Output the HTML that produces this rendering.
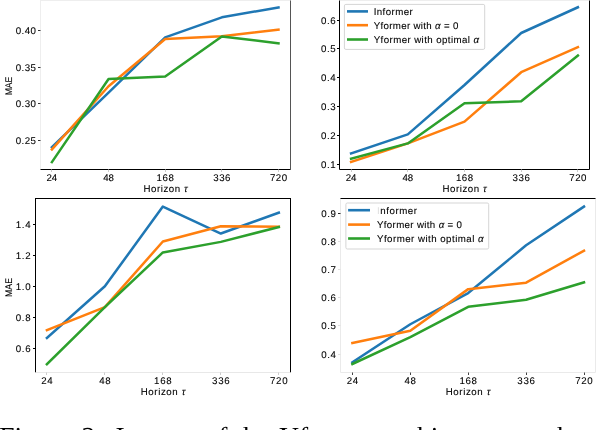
<!DOCTYPE html>
<html><head><meta charset="utf-8"><style>
html,body{margin:0;padding:0;background:#fff;}
svg{display:block;font-family:"Liberation Sans",sans-serif;will-change:transform;text-rendering:geometricPrecision;}
svg text{stroke:#000;stroke-width:0.1px;}
svg g text{stroke:none;}
</style></head><body>
<svg width="596" height="430" viewBox="0 0 596 430">
<rect width="596" height="430" fill="#fff"/>
<polyline points="51.9,147.18 108.55,92.72 165.2,37.31 221.85,17.32 278.5,7.37" fill="none" stroke="#1f77b4" stroke-width="2.5" stroke-linejoin="round" stroke-linecap="square"/>
<polyline points="51.9,149.45 108.55,86.28 165.2,38.92 221.85,36.21 278.5,29.62" fill="none" stroke="#ff7f0e" stroke-width="2.5" stroke-linejoin="round" stroke-linecap="square"/>
<polyline points="51.9,162.11 108.55,79.03 165.2,76.4 221.85,36.43 278.5,43.31" fill="none" stroke="#2ca02c" stroke-width="2.5" stroke-linejoin="round" stroke-linecap="square"/>
<line x1="40" y1="0.5" x2="291" y2="0.5" stroke="#eeeeee" stroke-width="1"/>
<line x1="40.5" y1="0.5" x2="40.5" y2="169.5" stroke="#eeeeee" stroke-width="1"/>
<line x1="290.5" y1="0.5" x2="290.5" y2="169.5" stroke="#555555" stroke-width="1"/>
<line x1="40.5" y1="169.5" x2="290.5" y2="169.5" stroke="#000" stroke-width="1"/>
<line x1="51.5" y1="169.5" x2="51.5" y2="172" stroke="#cccccc" stroke-width="1"/>
<text x="51.9" y="180.7" text-anchor="middle" font-size="9.7" textLength="10.6" lengthAdjust="spacing">24</text>
<line x1="108.5" y1="169.5" x2="108.5" y2="172" stroke="#cccccc" stroke-width="1"/>
<text x="108.55" y="180.7" text-anchor="middle" font-size="9.7" textLength="10.6" lengthAdjust="spacing">48</text>
<line x1="165.5" y1="169.5" x2="165.5" y2="172" stroke="#cccccc" stroke-width="1"/>
<text x="165.2" y="180.7" text-anchor="middle" font-size="9.7" textLength="17.2" lengthAdjust="spacing">168</text>
<line x1="221.5" y1="169.5" x2="221.5" y2="172" stroke="#cccccc" stroke-width="1"/>
<text x="221.85" y="180.7" text-anchor="middle" font-size="9.7" textLength="17.2" lengthAdjust="spacing">336</text>
<line x1="278.5" y1="169.5" x2="278.5" y2="172" stroke="#cccccc" stroke-width="1"/>
<text x="278.5" y="180.7" text-anchor="middle" font-size="9.7" textLength="17.2" lengthAdjust="spacing">720</text>
<text x="165.5" y="192.1" text-anchor="middle" font-size="9.7" textLength="44.2" lengthAdjust="spacing">Horizon <tspan font-style="italic">τ</tspan></text>
<line x1="38" y1="140.5" x2="40.5" y2="140.5" stroke="#333333" stroke-width="1"/>
<text x="35.9" y="144" text-anchor="end" font-size="9.7" textLength="20.2" lengthAdjust="spacing">0.25</text>
<line x1="38" y1="103.5" x2="40.5" y2="103.5" stroke="#333333" stroke-width="1"/>
<text x="35.9" y="107" text-anchor="end" font-size="9.7" textLength="20.2" lengthAdjust="spacing">0.30</text>
<line x1="38" y1="67.5" x2="40.5" y2="67.5" stroke="#333333" stroke-width="1"/>
<text x="35.9" y="71" text-anchor="end" font-size="9.7" textLength="20.2" lengthAdjust="spacing">0.35</text>
<line x1="38" y1="30.5" x2="40.5" y2="30.5" stroke="#333333" stroke-width="1"/>
<text x="35.9" y="34" text-anchor="end" font-size="9.7" textLength="20.2" lengthAdjust="spacing">0.40</text>
<text x="0" y="0" text-anchor="middle" font-size="9.7" textLength="18.5" lengthAdjust="spacingAndGlyphs" transform="translate(11.9,86) rotate(-90)">MAE</text>
<polyline points="351.1,153.4 407.8,134.42 464.5,85 521.2,32.99 577.9,7.27" fill="none" stroke="#1f77b4" stroke-width="2.5" stroke-linejoin="round" stroke-linecap="square"/>
<polyline points="351.1,161.9 407.8,143.41 464.5,121.66 521.2,72.21 577.9,47.1" fill="none" stroke="#ff7f0e" stroke-width="2.5" stroke-linejoin="round" stroke-linecap="square"/>
<polyline points="351.1,158.61 407.8,143.41 464.5,103.2 521.2,101.3 577.9,55.54" fill="none" stroke="#2ca02c" stroke-width="2.5" stroke-linejoin="round" stroke-linecap="square"/>
<line x1="339" y1="0.5" x2="590" y2="0.5" stroke="#eeeeee" stroke-width="1"/>
<line x1="339.5" y1="0.5" x2="339.5" y2="169.5" stroke="#000" stroke-width="1"/>
<line x1="589.5" y1="0.5" x2="589.5" y2="169.5" stroke="#000" stroke-width="1"/>
<line x1="339.5" y1="169.5" x2="589.5" y2="169.5" stroke="#000" stroke-width="1"/>
<line x1="351.5" y1="169.5" x2="351.5" y2="172" stroke="#cccccc" stroke-width="1"/>
<text x="351.1" y="180.9" text-anchor="middle" font-size="9.7" textLength="10.6" lengthAdjust="spacing">24</text>
<line x1="407.5" y1="169.5" x2="407.5" y2="172" stroke="#cccccc" stroke-width="1"/>
<text x="407.8" y="180.9" text-anchor="middle" font-size="9.7" textLength="10.6" lengthAdjust="spacing">48</text>
<line x1="464.5" y1="169.5" x2="464.5" y2="172" stroke="#cccccc" stroke-width="1"/>
<text x="464.5" y="180.9" text-anchor="middle" font-size="9.7" textLength="17.2" lengthAdjust="spacing">168</text>
<line x1="521.5" y1="169.5" x2="521.5" y2="172" stroke="#cccccc" stroke-width="1"/>
<text x="521.2" y="180.9" text-anchor="middle" font-size="9.7" textLength="17.2" lengthAdjust="spacing">336</text>
<line x1="577.5" y1="169.5" x2="577.5" y2="172" stroke="#cccccc" stroke-width="1"/>
<text x="577.9" y="180.9" text-anchor="middle" font-size="9.7" textLength="17.2" lengthAdjust="spacing">720</text>
<text x="464.5" y="192.1" text-anchor="middle" font-size="9.7" textLength="44" lengthAdjust="spacing">Horizon <tspan font-style="italic">τ</tspan></text>
<line x1="337" y1="164.5" x2="339.5" y2="164.5" stroke="#000" stroke-width="1"/>
<text x="335.7" y="168" text-anchor="end" font-size="9.7" textLength="14.8" lengthAdjust="spacing">0.1</text>
<line x1="337" y1="135.5" x2="339.5" y2="135.5" stroke="#000" stroke-width="1"/>
<text x="335.7" y="139" text-anchor="end" font-size="9.7" textLength="14.8" lengthAdjust="spacing">0.2</text>
<line x1="337" y1="106.5" x2="339.5" y2="106.5" stroke="#000" stroke-width="1"/>
<text x="335.7" y="110" text-anchor="end" font-size="9.7" textLength="14.8" lengthAdjust="spacing">0.3</text>
<line x1="337" y1="77.5" x2="339.5" y2="77.5" stroke="#000" stroke-width="1"/>
<text x="335.7" y="81" text-anchor="end" font-size="9.7" textLength="14.8" lengthAdjust="spacing">0.4</text>
<line x1="337" y1="48.5" x2="339.5" y2="48.5" stroke="#000" stroke-width="1"/>
<text x="335.7" y="52" text-anchor="end" font-size="9.7" textLength="14.8" lengthAdjust="spacing">0.5</text>
<line x1="337" y1="20.5" x2="339.5" y2="20.5" stroke="#000" stroke-width="1"/>
<text x="335.7" y="24" text-anchor="end" font-size="9.7" textLength="14.8" lengthAdjust="spacing">0.6</text>
<rect x="344.4" y="4.4" width="140.3" height="45" rx="1.5" fill="#fff" fill-opacity="0.8" stroke="#d5d5d5" stroke-width="1"/>
<line x1="347" y1="11.4" x2="368" y2="11.4" stroke="#1f77b4" stroke-width="2.6"/>
<text x="373.7" y="14.8" text-anchor="start" font-size="9.7" textLength="39" lengthAdjust="spacing">Informer</text>
<line x1="347" y1="25.2" x2="368" y2="25.2" stroke="#ff7f0e" stroke-width="2.6"/>
<text x="373.7" y="28.6" text-anchor="start" font-size="9.7" textLength="84.6" lengthAdjust="spacing">Yformer with <tspan font-style="italic">α</tspan> = 0</text>
<line x1="347" y1="39.5" x2="368" y2="39.5" stroke="#2ca02c" stroke-width="2.6"/>
<text x="373.7" y="42.9" text-anchor="start" font-size="9.7" textLength="105.3" lengthAdjust="spacing">Yformer with optimal <tspan font-style="italic">α</tspan></text>
<polyline points="46.9,337.97 104.88,286.3 162.86,206.55 220.84,233.55 278.82,212.72" fill="none" stroke="#1f77b4" stroke-width="2.5" stroke-linejoin="round" stroke-linecap="square"/>
<polyline points="46.9,330.2 104.88,307.2 162.86,241.51 220.84,226.3 278.82,226.76" fill="none" stroke="#ff7f0e" stroke-width="2.5" stroke-linejoin="round" stroke-linecap="square"/>
<polyline points="46.9,364.2 104.88,307.12 162.86,252.4 220.84,241.88 278.82,227.07" fill="none" stroke="#2ca02c" stroke-width="2.5" stroke-linejoin="round" stroke-linecap="square"/>
<line x1="35" y1="198.5" x2="291" y2="198.5" stroke="#000" stroke-width="1"/>
<line x1="35.5" y1="198.5" x2="35.5" y2="372.5" stroke="#000" stroke-width="1"/>
<line x1="290.5" y1="198.5" x2="290.5" y2="372.5" stroke="#000" stroke-width="1"/>
<line x1="35.5" y1="372.5" x2="290.5" y2="372.5" stroke="#e8e8e8" stroke-width="1"/>
<line x1="46.5" y1="372.5" x2="46.5" y2="375" stroke="#cccccc" stroke-width="1"/>
<text x="46.9" y="383.9" text-anchor="middle" font-size="9.7" textLength="11.4" lengthAdjust="spacing">24</text>
<line x1="104.5" y1="372.5" x2="104.5" y2="375" stroke="#cccccc" stroke-width="1"/>
<text x="104.88" y="383.9" text-anchor="middle" font-size="9.7" textLength="11.4" lengthAdjust="spacing">48</text>
<line x1="162.5" y1="372.5" x2="162.5" y2="375" stroke="#cccccc" stroke-width="1"/>
<text x="162.86" y="383.9" text-anchor="middle" font-size="9.7" textLength="17.5" lengthAdjust="spacing">168</text>
<line x1="220.5" y1="372.5" x2="220.5" y2="375" stroke="#cccccc" stroke-width="1"/>
<text x="220.84" y="383.9" text-anchor="middle" font-size="9.7" textLength="17.5" lengthAdjust="spacing">336</text>
<line x1="278.5" y1="372.5" x2="278.5" y2="375" stroke="#cccccc" stroke-width="1"/>
<text x="278.82" y="383.9" text-anchor="middle" font-size="9.7" textLength="17.5" lengthAdjust="spacing">720</text>
<text x="163" y="395.3" text-anchor="middle" font-size="9.7" textLength="44.5" lengthAdjust="spacing">Horizon <tspan font-style="italic">τ</tspan></text>
<line x1="33" y1="348.5" x2="35.5" y2="348.5" stroke="#000" stroke-width="1"/>
<text x="30.6" y="352" text-anchor="end" font-size="9.7" textLength="14.8" lengthAdjust="spacing">0.6</text>
<line x1="33" y1="317.5" x2="35.5" y2="317.5" stroke="#000" stroke-width="1"/>
<text x="30.6" y="321" text-anchor="end" font-size="9.7" textLength="14.8" lengthAdjust="spacing">0.8</text>
<line x1="33" y1="286.5" x2="35.5" y2="286.5" stroke="#000" stroke-width="1"/>
<text x="30.6" y="290" text-anchor="end" font-size="9.7" textLength="14.8" lengthAdjust="spacing">1.0</text>
<line x1="33" y1="255.5" x2="35.5" y2="255.5" stroke="#000" stroke-width="1"/>
<text x="30.6" y="259" text-anchor="end" font-size="9.7" textLength="14.8" lengthAdjust="spacing">1.2</text>
<line x1="33" y1="224.5" x2="35.5" y2="224.5" stroke="#000" stroke-width="1"/>
<text x="30.6" y="228" text-anchor="end" font-size="9.7" textLength="14.8" lengthAdjust="spacing">1.4</text>
<text x="0" y="0" text-anchor="middle" font-size="9.7" textLength="19" lengthAdjust="spacingAndGlyphs" transform="translate(11.9,287.5) rotate(-90)">MAE</text>
<polyline points="352.4,362.28 410.3,324.24 468.2,293.07 526.1,245.33 584,206.58" fill="none" stroke="#1f77b4" stroke-width="2.5" stroke-linejoin="round" stroke-linecap="square"/>
<polyline points="352.4,343.05 410.3,330.69 468.2,289.14 526.1,282.68 584,250.67" fill="none" stroke="#ff7f0e" stroke-width="2.5" stroke-linejoin="round" stroke-linecap="square"/>
<polyline points="352.4,364 410.3,337.21 468.2,306.83 526.1,299.81 584,282.4" fill="none" stroke="#2ca02c" stroke-width="2.5" stroke-linejoin="round" stroke-linecap="square"/>
<line x1="340" y1="198.5" x2="596" y2="198.5" stroke="#000" stroke-width="1"/>
<line x1="340.5" y1="198.5" x2="340.5" y2="372.5" stroke="#eaeaea" stroke-width="1"/>
<line x1="595.5" y1="198.5" x2="595.5" y2="372.5" stroke="#eaeaea" stroke-width="1"/>
<line x1="340.5" y1="372.5" x2="595.5" y2="372.5" stroke="#eaeaea" stroke-width="1"/>
<line x1="352.5" y1="372.5" x2="352.5" y2="375" stroke="#444444" stroke-width="1"/>
<text x="352.4" y="383.9" text-anchor="middle" font-size="9.7" textLength="11.4" lengthAdjust="spacing">24</text>
<line x1="410.5" y1="372.5" x2="410.5" y2="375" stroke="#444444" stroke-width="1"/>
<text x="410.3" y="383.9" text-anchor="middle" font-size="9.7" textLength="11.4" lengthAdjust="spacing">48</text>
<line x1="468.5" y1="372.5" x2="468.5" y2="375" stroke="#444444" stroke-width="1"/>
<text x="468.2" y="383.9" text-anchor="middle" font-size="9.7" textLength="17.5" lengthAdjust="spacing">168</text>
<line x1="526.5" y1="372.5" x2="526.5" y2="375" stroke="#444444" stroke-width="1"/>
<text x="526.1" y="383.9" text-anchor="middle" font-size="9.7" textLength="17.5" lengthAdjust="spacing">336</text>
<line x1="584.5" y1="372.5" x2="584.5" y2="375" stroke="#444444" stroke-width="1"/>
<text x="584" y="383.9" text-anchor="middle" font-size="9.7" textLength="17.5" lengthAdjust="spacing">720</text>
<text x="468" y="395.3" text-anchor="middle" font-size="9.7" textLength="44.5" lengthAdjust="spacing">Horizon <tspan font-style="italic">τ</tspan></text>
<line x1="338" y1="354.5" x2="340.5" y2="354.5" stroke="#e0e0e0" stroke-width="1"/>
<text x="336" y="358" text-anchor="end" font-size="9.7" textLength="14.8" lengthAdjust="spacing">0.4</text>
<line x1="338" y1="325.5" x2="340.5" y2="325.5" stroke="#e0e0e0" stroke-width="1"/>
<text x="336" y="329" text-anchor="end" font-size="9.7" textLength="14.8" lengthAdjust="spacing">0.5</text>
<line x1="338" y1="297.5" x2="340.5" y2="297.5" stroke="#e0e0e0" stroke-width="1"/>
<text x="336" y="301" text-anchor="end" font-size="9.7" textLength="14.8" lengthAdjust="spacing">0.6</text>
<line x1="338" y1="269.5" x2="340.5" y2="269.5" stroke="#e0e0e0" stroke-width="1"/>
<text x="336" y="273" text-anchor="end" font-size="9.7" textLength="14.8" lengthAdjust="spacing">0.7</text>
<line x1="338" y1="241.5" x2="340.5" y2="241.5" stroke="#e0e0e0" stroke-width="1"/>
<text x="336" y="245" text-anchor="end" font-size="9.7" textLength="14.8" lengthAdjust="spacing">0.8</text>
<line x1="338" y1="213.5" x2="340.5" y2="213.5" stroke="#222" stroke-width="1"/>
<text x="336" y="217" text-anchor="end" font-size="9.7" textLength="14.8" lengthAdjust="spacing">0.9</text>
<rect x="345.9" y="203" width="142.8" height="46" rx="1.5" fill="#fff" fill-opacity="0.8" stroke="#d5d5d5" stroke-width="1"/>
<line x1="348.1" y1="210.2" x2="370" y2="210.2" stroke="#1f77b4" stroke-width="2.6"/>
<text x="377" y="213.6" text-anchor="start" font-size="9.7" textLength="40" lengthAdjust="spacing"><tspan fill="#dddddd" style="stroke:none">I</tspan>nformer</text>
<line x1="348.1" y1="224.6" x2="370" y2="224.6" stroke="#ff7f0e" stroke-width="2.6"/>
<text x="377" y="228" text-anchor="start" font-size="9.7" textLength="85" lengthAdjust="spacing">Yformer with <tspan font-style="italic">α</tspan> = 0</text>
<line x1="348.1" y1="238.5" x2="370" y2="238.5" stroke="#2ca02c" stroke-width="2.6"/>
<text x="377" y="241.9" text-anchor="start" font-size="9.7" textLength="106.5" lengthAdjust="spacing">Yformer with optimal <tspan font-style="italic">α</tspan></text>
<g font-family="Liberation Serif, serif" font-size="27.5">
<text x="-0.75" y="445.5">Figure</text>
<text x="81.55" y="445.5">2:</text>
<text x="115.4" y="445.5">Impact</text>
<text x="204.4" y="445.5">of</text>
<text x="235.4" y="445.5">the</text>
<text x="279.15" y="445.5">Yformer</text>
<text x="383.4" y="445.5">architecture</text>
<text x="521.5" y="445.5">on</text>
<text x="549.4" y="445.5">the</text>
</g>
</svg></body></html>
